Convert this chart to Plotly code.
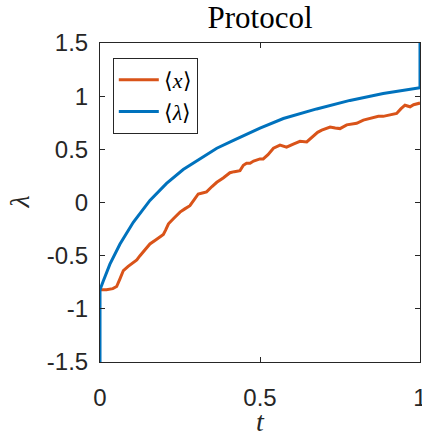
import plotly.graph_objects as go

# <lambda> protocol (with jumps at both ends)
t_lam = [0, 0, 0.01, 0.02, 0.031, 0.0625, 0.104, 0.156, 0.208, 0.26, 0.3125, 0.365,
         0.417, 0.469, 0.5, 0.573, 0.677, 0.781, 0.885, 1.0, 1.0]
lam = [-1.5, -0.82, -0.74, -0.66, -0.58, -0.39, -0.186, 0.02, 0.18, 0.31, 0.41, 0.51,
       0.585, 0.66, 0.70, 0.79, 0.88, 0.96, 1.025, 1.08, 1.5]

# <x> response
t_x = [0, 0.02, 0.04, 0.052, 0.062, 0.073, 0.088, 0.104, 0.115, 0.125, 0.14, 0.156,
       0.175, 0.198, 0.205, 0.214, 0.23, 0.25, 0.265, 0.281, 0.295, 0.307, 0.32, 0.333,
       0.35, 0.365, 0.385, 0.406, 0.42, 0.4375, 0.448, 0.458, 0.469, 0.48, 0.5, 0.51,
       0.525, 0.542, 0.5625, 0.583, 0.604, 0.625, 0.646, 0.667, 0.68, 0.693, 0.719,
       0.735, 0.75, 0.771, 0.785, 0.802, 0.823, 0.84, 0.854, 0.87, 0.885, 0.905, 0.927,
       0.94, 0.953, 0.969, 0.98, 1.0]
x_mean = [-0.82, -0.82, -0.81, -0.79, -0.72, -0.64, -0.60, -0.56, -0.54, -0.50, -0.45,
          -0.39, -0.35, -0.30, -0.26, -0.20, -0.15, -0.09, -0.06, -0.03, 0.03, 0.08, 0.09,
          0.10, 0.15, 0.19, 0.23, 0.28, 0.29, 0.30, 0.35, 0.37, 0.37, 0.39, 0.41, 0.41,
          0.45, 0.51, 0.54, 0.52, 0.55, 0.575, 0.57, 0.63, 0.66, 0.68, 0.71, 0.70, 0.695,
          0.73, 0.735, 0.745, 0.775, 0.79, 0.80, 0.81, 0.81, 0.82, 0.837, 0.88, 0.915,
          0.90, 0.92, 0.935]

x_ticks = [0, 0.5, 1]
x_ticklabels = ["0", "0.5", "1"]
y_ticks = [-1.5, -1, -0.5, 0, 0.5, 1, 1.5]
y_ticklabels = ["-1.5", "-1", "-0.5", "0", "0.5", "1", "1.5"]

AX = "#262626"
SERIF = "Liberation Serif"
SANS = "Liberation Sans"

W, H = 422, 438
ML, MR, MT, MB = 100, 2, 43, 76
plot_w = W - ML - MR
plot_h = H - MT - MB

fig = go.Figure()
fig.add_trace(go.Scatter(x=t_x, y=x_mean, mode="lines", name="⟨<i>x</i>⟩",
                         line=dict(color="#D95319", width=3)))
fig.add_trace(go.Scatter(x=t_lam, y=lam, mode="lines", name="⟨<i>λ</i>⟩",
                         line=dict(color="#0072BD", width=3)))

axis_common = dict(showline=True, linecolor=AX, linewidth=1, mirror="ticks",
                   ticks="inside", ticklen=5, tickcolor=AX, tickwidth=1,
                   showgrid=False, zeroline=False, automargin=False,
                   ticklabeloverflow="allow",
                   tickfont=dict(family=SANS, size=24, color=AX))

fig.update_layout(
    width=W, height=H,
    margin=dict(l=ML, r=MR, t=MT, b=MB),
    paper_bgcolor="white", plot_bgcolor="white",
    title=dict(text="Protocol", x=0.5, xref="paper", y=1 - 17 / H, yref="container",
               xanchor="center", yanchor="middle",
               font=dict(family=SERIF, size=31, color="black")),
    xaxis=dict(range=[0, 1], tickvals=x_ticks, ticktext=x_ticklabels,
               ticklabelstandoff=14, **axis_common),
    yaxis=dict(range=[-1.5, 1.5], tickvals=y_ticks, ticktext=y_ticklabels,
               ticklabelstandoff=6, **axis_common),
    legend=dict(x=0.04, y=0.953, xanchor="left", yanchor="top",
                bgcolor="white", bordercolor=AX, borderwidth=1,
                font=dict(family=SERIF, size=22, color="black"),
                tracegroupgap=0, itemwidth=40),
    showlegend=True,
    annotations=[
        dict(text="<i>t</i>", x=0.5, xref="paper", y=(H - MB - 421) / plot_h, yref="paper",
             showarrow=False, xanchor="center", yanchor="middle",
             font=dict(family=SERIF, size=28, color=AX)),
        dict(text="<i>λ</i>", x=(19 - ML) / plot_w, xref="paper", y=0.5, yref="paper",
             showarrow=False, xanchor="center", yanchor="middle", textangle=-90,
             font=dict(family=SERIF, size=28, color=AX)),
    ],
)

fig.write_html("out.html", config={"displayModeBar": False},
               post_script="document.body.style.margin='0';document.body.style.padding='0';")
